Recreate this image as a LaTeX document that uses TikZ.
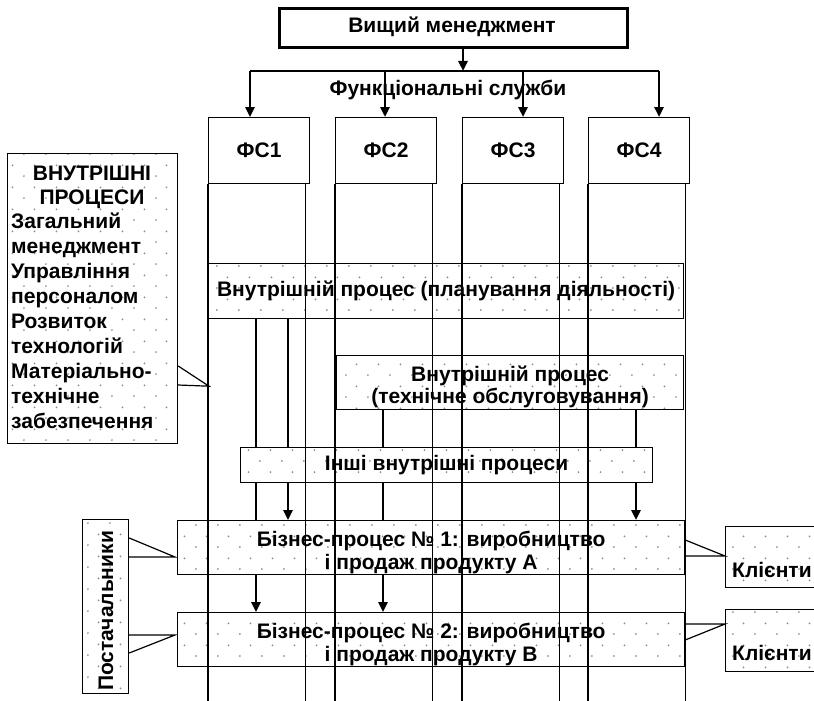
\documentclass[tikz,border=0pt]{standalone}
\usepackage{fontspec}
\setmainfont{Liberation Sans}
\usetikzlibrary{arrows.meta,patterns,calc}

% sparse staggered dot fill for process boxes
\pgfdeclarepatternformonly{sparsedots}{\pgfqpoint{0pt}{0pt}}{\pgfqpoint{21.5pt}{21.6pt}}{\pgfqpoint{21.5pt}{21.6pt}}{%
  \pgfpathcircle{\pgfqpoint{2pt}{2pt}}{1.0pt}%
  \pgfpathcircle{\pgfqpoint{12.75pt}{12.8pt}}{1.0pt}%
  \pgfusepath{fill}}

\tikzset{
  box/.style={draw, line width=1.2pt, fill=white, inner sep=0pt, anchor=north west},
  dotbox/.style={draw, line width=1.2pt, inner sep=0pt, anchor=north west,
    preaction={fill=white}, pattern=sparsedots, pattern color=black!45},
  txt/.style={font=\fontsize{21}{24}\selectfont\bfseries, inner sep=0pt},
  grid line/.style={line width=1.2pt},
  flow/.style={line width=2.4pt},
  flowarrow/.style={line width=2.4pt, -{Triangle[length=10pt,width=9pt]}},
  callout/.style={line width=1.2pt},
}

\begin{document}
\begin{tikzpicture}[x=1pt,y=-1pt]
\useasboundingbox (0,0) rectangle (814,701);
\coordinate (bot) at (0,701);

% top management and functional services
\node[box, line width=2.6pt, minimum width=348pt, minimum height=39pt] (top) at (278,7) {};
\node[txt] (toptext) at (452,27) {Вищий менеджмент};
\node[txt] (fstext) at (448,90) {Функціональні служби};

\node[box, minimum width=101pt, minimum height=66pt] (fs1) at (208,117) {};
\node[box, minimum width=101pt, minimum height=66pt] (fs2) at (335,117) {};
\node[box, minimum width=101pt, minimum height=66pt] (fs3) at (462,117) {};
\node[box, minimum width=101pt, minimum height=66pt] (fs4) at (588,117) {};
\node[txt] (fs1t) at (fs1.center) {ФС1};
\node[txt] (fs2t) at (fs2.center) {ФС2};
\node[txt] (fs3t) at (fs3.center) {ФС3};
\node[txt] (fs4t) at (fs4.center) {ФС4};

% branching arrows
\coordinate (hub) at (463,71);
\coordinate (a1) at (250,71);
\coordinate (a2) at (385,71);
\coordinate (a3) at (523,71);
\coordinate (a4) at (659,71);
\draw[flowarrow] (top.south -| hub) -- (hub);
\draw[line width=1.4pt] (a1) -- (a4);
\draw[flowarrow] (a1) -- (a1 |- fs1.north);
\draw[flowarrow] (a2) -- (a2 |- fs2.north);
\draw[flowarrow] (a3) -- (a3 |- fs3.north);
\draw[flowarrow] (a4) -- (a4 |- fs4.north);

% internal processes list
\node[dotbox, minimum width=170pt, minimum height=290pt] (ib) at (7,153) {};
\node[txt, align=center, font=\fontsize{21}{24}\selectfont\bfseries, anchor=north] (ibhead) at (92,166) {ВНУТРІШНІ\\ПРОЦЕСИ};
\node[txt, align=left, font=\fontsize{21}{25}\selectfont\bfseries, anchor=north west] (iblist) at (11,213)
  {Загальний\\менеджмент\\Управління\\персоналом\\Розвиток\\технологій\\Матеріально-\\технічне\\забезпечення};

% process boxes
\node[dotbox, minimum width=475pt, minimum height=55pt] (plan) at (208,263) {};
\node[txt] (plant) at (plan.center) {Внутрішній процес (планування діяльності)};
\node[dotbox, minimum width=347pt, minimum height=54pt] (tech) at (336,355) {};
\node[txt, align=center, font=\fontsize{21}{22}\selectfont\bfseries] (techt) at ($(tech.center)+(0,4)$) {Внутрішній процес\\(технічне обслуговування)};
\node[dotbox, minimum width=412pt, minimum height=35pt] (other) at (240,447) {};
\node[txt] (othert) at (other.center) {Інші внутрішні процеси};
\node[dotbox, minimum width=507pt, minimum height=54pt] (bp1) at (177,520) {};
\node[txt, align=center, font=\fontsize{21}{23}\selectfont\bfseries] (bp1t) at ($(bp1.center)+(0,5)$) {Бізнес-процес № 1: виробництво\\і продаж продукту А};
\node[dotbox, minimum width=507pt, minimum height=54pt] (bp2) at (177,612) {};
\node[txt, align=center, font=\fontsize{21}{23}\selectfont\bfseries] (bp2t) at ($(bp2.center)+(0,5)$) {Бізнес-процес № 2: виробництво\\і продаж продукту В};

% suppliers and customers
\node[dotbox, minimum width=46pt, minimum height=174pt] (sup) at (82,519) {};
\node[txt, rotate=90] (supt) at (106,611) {Постачальники};
\node[dotbox, minimum width=105pt, minimum height=61pt] (cl1) at (725,526) {};
\node[txt, anchor=base west] (cl1t) at (732,577) {Клієнти};
\node[dotbox, minimum width=105pt, minimum height=62pt] (cl2) at (725,609) {};
\node[txt, anchor=base west] (cl2t) at (732,660) {Клієнти};

% service columns running down through the processes
\foreach \n in {fs1,fs2,fs3,fs4}{
  \draw[grid line] (\n.south west) -- (\n.south west |- bot);
  \draw[grid line] ($(\n.south east)+(-5,0)$) -- ($(\n.south east |- bot)+(-5,0)$);
}

% process flows
\coordinate (k1) at (256,0);
\coordinate (k2) at (288,0);
\coordinate (k3) at (383,0);
\coordinate (k4) at (636,0);
\draw[flow] (plan.south -| k1) -- (other.north -| k1);
\draw[flow] (plan.south -| k2) -- (other.north -| k2);
\draw[flow] (tech.south -| k3) -- (other.north -| k3);
\draw[flow] (tech.south -| k4) -- (other.north -| k4);
\draw[flow] (other.south -| k1) -- (bp1.north -| k1);
\draw[flowarrow] (other.south -| k2) -- (bp1.north -| k2);
\draw[flow] (other.south -| k3) -- (bp1.north -| k3);
\draw[flowarrow] (other.south -| k4) -- (bp1.north -| k4);
\draw[flowarrow] (bp1.south -| k1) -- (bp2.north -| k1);
\draw[flowarrow] (bp1.south -| k3) -- (bp2.north -| k3);

% callout wedges
\draw[callout] ($(ib.north east)+(0,213)$) -- ($(fs1.south west)+(1,202)$) -- ($(ib.north east)+(0,232)$);
\draw[callout] ($(sup.north east)+(0,19)$) -- ($(bp1.north west)+(-2,37)$) -- ($(sup.north east)+(0,38)$);
\draw[callout] ($(sup.north east)+(0,116)$) -- ($(bp2.north west)+(-2,23)$) -- ($(sup.north east)+(0,134)$);
\draw[callout] ($(bp1.north east)+(0,20)$) -- ($(cl1.north west)+(0,30)$) -- ($(bp1.north east)+(0,36)$);
\draw[callout] ($(bp2.north east)+(0,12)$) -- ($(cl2.north west)+(0,15)$) -- ($(bp2.north east)+(0,28)$);
\draw[line width=2.4pt] ($(bp1.north east)+(0,20)$) -- ($(bp1.north east)+(0,36)$);
\draw[line width=2.4pt] ($(bp2.north east)+(0,12)$) -- ($(bp2.north east)+(0,28)$);
\end{tikzpicture}
\end{document}
